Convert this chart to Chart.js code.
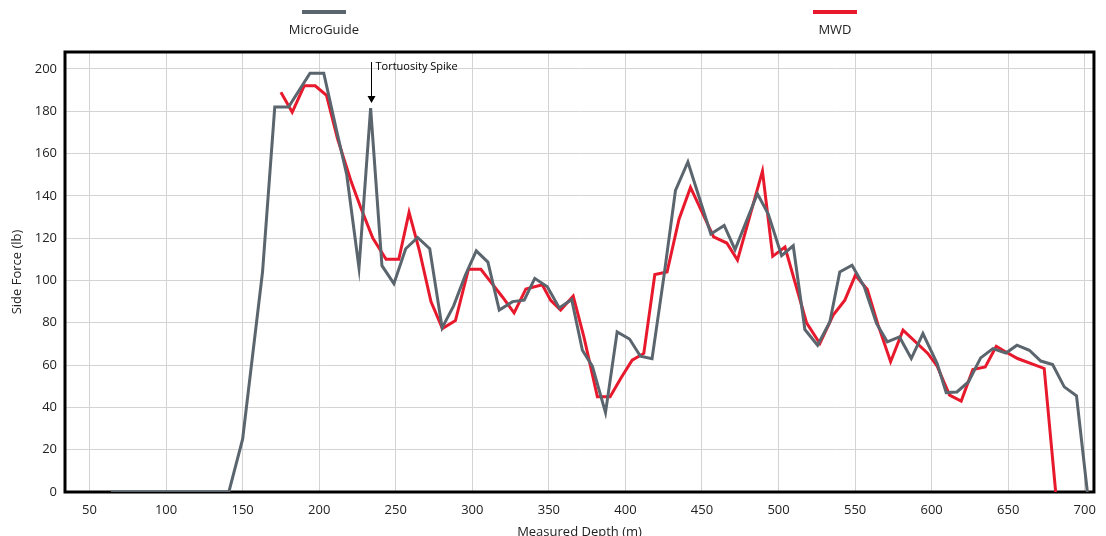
<!DOCTYPE html>
<html>
<head>
<meta charset="utf-8">
<script src="https://cdn.jsdelivr.net/npm/chart.js@4.4.1/dist/chart.umd.min.js"></script>
<style>
  html, body { margin: 0; padding: 0; background: #fff; overflow: hidden; }
  #wrap { width: 1106px; height: 536px; }
</style>
</head>
<body>
<div id="wrap"><canvas id="sideForceChart" width="1106" height="536"></canvas></div>
<script>
// Data (depth in m, side force in lb)
const microGuideDepth = [64, 141, 150, 163, 171, 180, 194, 203, 211, 218, 226, 233.6, 241, 248.8, 256.5, 264.3, 272.2, 280.3, 287.8, 295.5, 302.6, 310.2, 317.6, 326.3, 333.9, 340.8, 349, 356.8, 364.9, 371.9, 378.4, 387, 394.6, 402.7, 409.8, 417.4, 425.1, 432.7, 440.8, 455.8, 464.5, 471.6, 486.2, 493.3, 502, 509.6, 517.2, 525.5, 533.5, 540, 548, 556, 564, 571, 579, 586.7, 594.3, 603.6, 609.5, 616.5, 624, 632, 640, 648.5, 655.7, 663.8, 671.3, 679, 686.6, 694.6, 701.7];
const microGuideForce = [0, 0, 25, 104, 182, 182, 198, 198, 172, 150, 106, 181.5, 107, 98.5, 115, 120.3, 115, 77.6, 88, 102.6, 114, 108.7, 86, 90, 90.7, 101, 97, 87, 91, 67, 59.5, 37.5, 75.7, 72.3, 64.2, 63, 101.7, 142.6, 156, 122, 126, 114.6, 141, 131.4, 111.7, 116.4, 76.8, 69.4, 80.4, 104, 107.2, 97, 79.7, 71, 73.3, 63.1, 74.9, 60.7, 47, 47.3, 52, 63.4, 67.8, 65.7, 69.4, 67, 61.9, 60.3, 49.7, 45.5, 0];

const mwdDepth = [175, 182.4, 190.2, 197.4, 204.8, 212, 221, 227, 235, 243.7, 252, 258.7, 265.5, 273, 280.5, 289, 297.5, 305.6, 312, 319.7, 327.3, 335, 345.7, 351.2, 357.7, 365.9, 373, 381.7, 390, 397.2, 404.4, 412, 419.2, 427.2, 435, 442.5, 457.6, 466.2, 473.2, 489.5, 496.2, 504.2, 518.3, 527, 535.7, 543.3, 550.2, 558, 565, 573.2, 581.3, 597.5, 603.6, 611.7, 619.3, 626.9, 635, 642.2, 648.5, 656.1, 673.5, 681];
const mwdForce = [189, 179.5, 192, 192, 187.5, 167, 146.5, 134.7, 120, 110, 110, 132.2, 114, 90, 77.3, 81, 105.3, 105.3, 99.3, 92.2, 84.7, 96, 98, 90.6, 86, 92.6, 73, 45, 45, 54, 62.3, 65.5, 102.8, 104, 129, 144, 120.6, 117.7, 109.6, 151.7, 111.4, 115.8, 80, 70.2, 83.6, 90.7, 102.5, 95.7, 79, 61.6, 76.5, 65.5, 59.5, 45.8, 43, 57.9, 59.1, 68.9, 66.2, 63.1, 58.4, 0];

const seriesNames = ['MicroGuide', 'MWD'];
const seriesColors = ['#5b656e', '#e8192c'];

const xTickValues = [50, 100, 150, 200, 250, 300, 350, 400, 450, 500, 550, 600, 650, 700];
const yTickValues = [0, 20, 40, 60, 80, 100, 120, 140, 160, 180, 200];

const annotationText = 'Tortuosity Spike';
const spikeDepth = 233.6;
const spikeForce = 181.5;

const FONT = "'Open Sans', sans-serif";

const toPoints = (xs, ys) => xs.map((x, i) => ({ x: x, y: ys[i] }));

// legend: swatch above label, two items spread around the plot centre
const stackedLegend = {
  id: 'stackedLegend',
  afterDraw(chart) {
    const ctx = chart.ctx;
    const mid = (chart.chartArea.left + chart.chartArea.right) / 2;
    const gap = 511;
    chart.data.datasets.forEach((ds, i) => {
      const cx = mid + (i - 0.5) * gap;
      ctx.save();
      ctx.fillStyle = ds.borderColor;
      ctx.fillRect(cx - 22, 10, 44, 4);
      ctx.fillStyle = '#222';
      ctx.font = '13px ' + FONT;
      ctx.textAlign = 'center';
      ctx.textBaseline = 'middle';
      ctx.fillText(ds.label, cx, 30);
      ctx.restore();
    });
  }
};

// black frame round the plot (under the lines) + spike arrow note
const frameAndNote = {
  id: 'frameAndNote',
  beforeDatasetsDraw(chart) {
    const { ctx, chartArea: a } = chart;
    ctx.save();
    ctx.strokeStyle = '#000';
    ctx.lineWidth = 3;
    ctx.strokeRect(a.left, a.top, a.right - a.left, a.bottom - a.top);
    ctx.restore();
  },
  afterDatasetsDraw(chart) {
    const { ctx, chartArea: a, scales } = chart;
    const ax = Math.round(scales.x.getPixelForValue(spikeDepth)) + 0.5;
    const tipY = scales.y.getPixelForValue(spikeForce) - 5;
    const topY = a.top + 10;
    ctx.save();
    ctx.strokeStyle = '#000';
    ctx.lineWidth = 1;
    ctx.beginPath();
    ctx.moveTo(ax, topY);
    ctx.lineTo(ax, tipY - 6);
    ctx.stroke();
    ctx.fillStyle = '#000';
    ctx.beginPath();
    ctx.moveTo(ax - 4, tipY - 7);
    ctx.lineTo(ax + 4, tipY - 7);
    ctx.lineTo(ax, tipY);
    ctx.closePath();
    ctx.fill();

    ctx.font = '11px ' + FONT;
    ctx.textAlign = 'left';
    ctx.textBaseline = 'middle';
    ctx.fillText(annotationText, ax + 4, topY + 5);
    ctx.restore();
  }
};

new Chart(document.getElementById('sideForceChart'), {
  type: 'line',
  data: {
    datasets: [
      { label: seriesNames[0], data: toPoints(microGuideDepth, microGuideForce), borderColor: seriesColors[0], backgroundColor: seriesColors[0] },
      { label: seriesNames[1], data: toPoints(mwdDepth, mwdForce), borderColor: seriesColors[1], backgroundColor: seriesColors[1] }
    ]
  },
  options: {
    responsive: false,
    animation: false,
    layout: { padding: { top: 52, right: 9, left: 0, bottom: 0 } },
    elements: { point: { radius: 0 }, line: { borderWidth: 3, tension: 0, borderJoinStyle: 'miter' } },
    plugins: { legend: { display: false }, tooltip: { enabled: false } },
    scales: {
      x: {
        type: 'linear',
        min: 34,
        max: 706,
        afterBuildTicks: s => { s.ticks = xTickValues.map(v => ({ value: v })); },
        afterFit: s => { s.height = 44; },
        grid: { color: '#d3d3d3', lineWidth: 1, drawTicks: false },
        border: { display: false },
        ticks: { padding: 10, color: '#222', font: { family: FONT, size: 13 }, maxRotation: 0 },
        title: { display: true, text: 'Measured Depth (m)', color: '#222', font: { family: FONT, size: 13 }, padding: { top: 0, bottom: -4 } }
      },
      y: {
        min: 0,
        max: 208,
        afterBuildTicks: s => { s.ticks = yTickValues.map(v => ({ value: v })); },
        afterFit: s => { s.width = 65; },
        grid: { color: '#d3d3d3', lineWidth: 1, drawTicks: false },
        border: { display: false },
        ticks: { padding: 8, color: '#222', font: { family: FONT, size: 13 } },
        title: { display: true, text: 'Side Force (lb)', color: '#222', font: { family: FONT, size: 13 }, padding: { top: 9, bottom: 0 } }
      }
    }
  },
  plugins: [stackedLegend, frameAndNote]
});
</script>
</body>
</html>
